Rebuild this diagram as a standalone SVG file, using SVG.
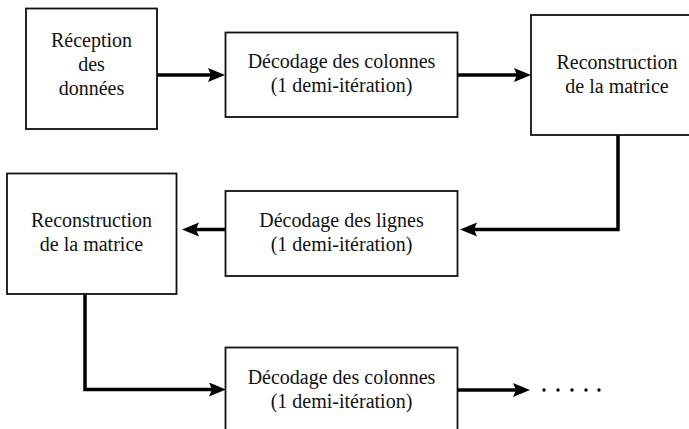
<svg xmlns="http://www.w3.org/2000/svg" width="689" height="429" viewBox="0 0 689 429">
  <style>
    .box { fill: #ffffff; stroke: #111111; stroke-width: 1.8; }
    .lbl { font-family: "Liberation Serif", "Times New Roman", serif; font-size: 20px; fill: #111111; text-anchor: middle; }
    .wire { fill: none; stroke: #000000; stroke-width: 3.5; stroke-linejoin: miter; }
    .dot { fill: #000000; }
  </style>
  <defs>
    <marker id="head" markerUnits="userSpaceOnUse" markerWidth="18" markerHeight="16" refX="3" refY="7" orient="auto">
      <path d="M0,0 L17,7 L0,14 L3,7 z" fill="#000000"/>
    </marker>
  </defs>
  <rect width="689" height="429" fill="#ffffff"/>

  <g id="connectors">
    <path class="wire" d="M157,75 H211" marker-end="url(#head)"/>
    <path class="wire" d="M458,75 H517" marker-end="url(#head)"/>
    <path class="wire" d="M618,135 V229.5 H474" marker-end="url(#head)"/>
    <path class="wire" d="M225,229.5 H196" marker-end="url(#head)"/>
    <path class="wire" d="M85,294 V389.5 H212" marker-end="url(#head)"/>
    <path class="wire" d="M458,390 H516" marker-end="url(#head)"/>
    <circle class="dot" cx="544" cy="390" r="1.7"/>
    <circle class="dot" cx="558" cy="390" r="1.7"/>
    <circle class="dot" cx="572" cy="390" r="1.7"/>
    <circle class="dot" cx="586" cy="390" r="1.7"/>
    <circle class="dot" cx="599" cy="390" r="1.7"/>
  </g>

  <g id="reception">
    <rect class="box" x="26" y="8.5" width="131" height="120.5"/>
    <text class="lbl" x="91.5" y="47">Réception</text>
    <text class="lbl" x="91.5" y="71">des</text>
    <text class="lbl" x="91.5" y="95">données</text>
  </g>

  <g id="decodage-colonnes-1">
    <rect class="box" x="225.5" y="32.5" width="232" height="84.5"/>
    <text class="lbl" x="341.5" y="68">Décodage des colonnes</text>
    <text class="lbl" x="341.5" y="92">(1 demi-itération)</text>
  </g>

  <g id="reconstruction-1">
    <rect class="box" x="531" y="15" width="175" height="120"/>
    <text class="lbl" x="617" y="68.5">Reconstruction</text>
    <text class="lbl" x="617" y="92.5">de la matrice</text>
  </g>

  <g id="decodage-lignes">
    <rect class="box" x="225.5" y="191" width="232" height="85"/>
    <text class="lbl" x="341.5" y="227">Décodage des lignes</text>
    <text class="lbl" x="341.5" y="251">(1 demi-itération)</text>
  </g>

  <g id="reconstruction-2">
    <rect class="box" x="7" y="173.5" width="169.5" height="120.5"/>
    <text class="lbl" x="91.5" y="226.5">Reconstruction</text>
    <text class="lbl" x="91.5" y="250.5">de la matrice</text>
  </g>

  <g id="decodage-colonnes-2">
    <rect class="box" x="225.5" y="347.5" width="232" height="85"/>
    <text class="lbl" x="341.5" y="384">Décodage des colonnes</text>
    <text class="lbl" x="341.5" y="408">(1 demi-itération)</text>
  </g>
</svg>
